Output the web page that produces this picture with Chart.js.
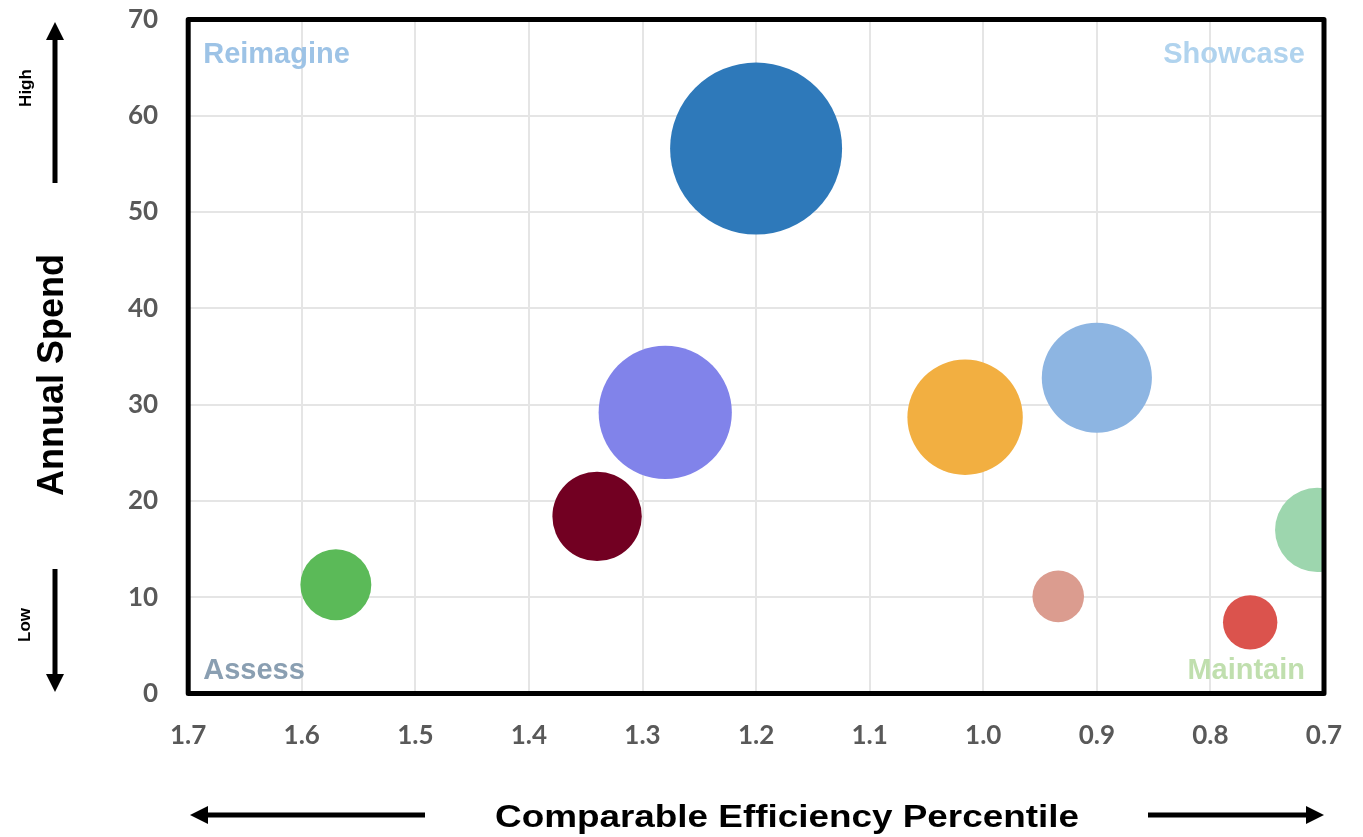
<!DOCTYPE html>
<html>
<head>
<meta charset="utf-8">
<title>Spend vs Efficiency</title>
<script src="https://cdn.jsdelivr.net/npm/chart.js@4.4.1/dist/chart.umd.min.js"></script>
<style>
    body { margin: 0; background: #fff; }
    #bubble-chart { display: block; }
</style>
</head>
<body>
<canvas id="bubble-chart" width="1363" height="837"></canvas>
<script>
// efficiency percentile (x), annual spend (y), relative bubble size
const efficiency = [1.2, 1.28, 1.016, 0.9, 1.34, 1.57, 0.706, 0.934, 0.765];
const annualSpend = [56.6, 29.2, 28.7, 32.8, 18.4, 11.3, 17.0, 10.1, 7.4];
const bubbleSize = [100, 60, 45, 41, 27, 17, 24, 9, 10];
const bubbleColors = ['#2e79ba', '#8183ea', '#f2af41', '#8db5e2', '#720022', '#5bba58', '#9dd6ae', '#db9c8f', '#db534d'];

const quadrantNames = ['Reimagine', 'Showcase', 'Assess', 'Maintain'];
const quadrantColors = ['#9dc3e6', '#b0d3ee', '#8a9fb2', '#c0dfae'];

const xTitle = 'Comparable Efficiency Percentile';
const yTitle = 'Annual Spend';

const tickFont = { family: 'Lato', size: 26, weight: 'bold' };
const maxRadius = 86;

function drawArrow(ctx, x1, y1, x2, y2) {
    const angle = Math.atan2(y2 - y1, x2 - x1);
    const head = 18;
    const half = 9;
    const bx = x2 - Math.cos(angle) * head;
    const by = y2 - Math.sin(angle) * head;
    ctx.beginPath();
    ctx.moveTo(x1, y1);
    ctx.lineTo(bx, by);
    ctx.lineWidth = 5;
    ctx.strokeStyle = '#000';
    ctx.stroke();
    ctx.beginPath();
    ctx.moveTo(x2, y2);
    ctx.lineTo(bx + Math.sin(angle) * half, by - Math.cos(angle) * half);
    ctx.lineTo(bx - Math.sin(angle) * half, by + Math.cos(angle) * half);
    ctx.closePath();
    ctx.fillStyle = '#000';
    ctx.fill();
}

// Frame, quadrant names, axis titles and direction arrows
const decorPlugin = {
    id: 'decor',
    afterDraw(chart) {
        const ctx = chart.ctx;
        const { left, right, top, bottom } = chart.chartArea;
        ctx.save();

        ctx.lineWidth = 5;
        ctx.lineJoin = 'round';
        ctx.strokeStyle = '#000';
        ctx.strokeRect(left, top, right - left, bottom - top);

        ctx.font = 'bold 29px "Liberation Sans", Arial';
        ctx.textBaseline = 'alphabetic';
        ctx.textAlign = 'left';
        ctx.fillStyle = quadrantColors[0];
        ctx.fillText(quadrantNames[0], left + 15, top + 43);
        ctx.textAlign = 'right';
        ctx.fillStyle = quadrantColors[1];
        ctx.fillText(quadrantNames[1], right - 19, top + 43);
        ctx.textAlign = 'left';
        ctx.fillStyle = quadrantColors[2];
        ctx.fillText(quadrantNames[2], left + 15, bottom - 15);
        ctx.textAlign = 'right';
        ctx.fillStyle = quadrantColors[3];
        ctx.fillText(quadrantNames[3], right - 19, bottom - 15);

        // y title, rotated
        ctx.fillStyle = '#000';
        ctx.textAlign = 'center';
        ctx.save();
        ctx.translate(63, 375);
        ctx.rotate(-Math.PI / 2);
        ctx.font = 'bold 36px "Liberation Sans", Arial';
        ctx.fillText(yTitle, 0, 0);
        ctx.restore();

        // x title, a bit wider than the plain face
        ctx.save();
        ctx.font = 'bold 32px "Liberation Sans", Arial';
        const w = ctx.measureText(xTitle).width;
        ctx.translate(787, 827);
        ctx.scale(584 / w, 1);
        ctx.fillText(xTitle, 0, 0);
        ctx.restore();

        // High / Low markers
        ctx.font = 'bold 17px "Liberation Sans", Arial';
        ctx.save();
        ctx.translate(31, 88);
        ctx.rotate(-Math.PI / 2);
        ctx.fillText('High', 0, 0);
        ctx.restore();
        ctx.save();
        ctx.translate(30, 625);
        ctx.rotate(-Math.PI / 2);
        ctx.fillText('Low', 0, 0);
        ctx.restore();

        drawArrow(ctx, 55, 183, 55, 22);
        drawArrow(ctx, 55, 569, 55, 692);
        drawArrow(ctx, 425, 815, 190, 815);
        drawArrow(ctx, 1148, 815, 1324, 815);

        ctx.restore();
    }
};

// bubble area follows the size value
const maxSize = Math.max(...bubbleSize);
const points = efficiency.map((x, i) => ({
    x,
    y: annualSpend[i],
    r: maxRadius * Math.sqrt(bubbleSize[i] / maxSize)
}));

new Chart(document.getElementById('bubble-chart'), {
    type: 'bubble',
    data: {
        datasets: [{
            data: points,
            backgroundColor: bubbleColors,
            borderWidth: 0,
            clip: 0
        }]
    },
    options: {
        responsive: false,
        animation: false,
        events: [],
        layout: {
            autoPadding: false,
            padding: { top: 19.5, right: 39, left: 0, bottom: 0 }
        },
        plugins: {
            legend: { display: false },
            tooltip: { enabled: false }
        },
        scales: {
            x: {
                type: 'linear',
                reverse: true,
                min: 0.7,
                max: 1.7,
                ticks: {
                    stepSize: 0.1,
                    padding: 26,
                    color: '#595959',
                    font: tickFont,
                    callback: v => v.toFixed(1)
                },
                grid: { color: '#e5e5e5', lineWidth: 2, drawTicks: false },
                border: { display: false },
                afterFit(scale) {
                    scale.height = 143.4;
                    scale.paddingLeft = 0;
                    scale.paddingRight = 0;
                }
            },
            y: {
                min: 0,
                max: 70,
                ticks: {
                    stepSize: 10,
                    padding: 30,
                    color: '#595959',
                    font: tickFont
                },
                grid: { color: '#e5e5e5', lineWidth: 2, drawTicks: false },
                border: { display: false },
                afterFit(scale) {
                    scale.width = 188.2;
                    scale.paddingTop = 0;
                    scale.paddingBottom = 0;
                }
            }
        }
    },
    plugins: [decorPlugin]
});
</script>
</body>
</html>
